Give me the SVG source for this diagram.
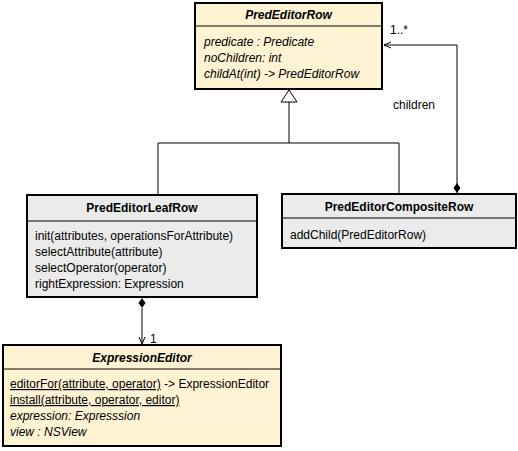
<svg xmlns="http://www.w3.org/2000/svg" width="518" height="451" viewBox="0 0 518 451">
<style>
text{font-family:"Liberation Sans",Arial,sans-serif;font-size:12px;fill:#000}
.t{font-weight:bold;text-anchor:middle}
.i{font-style:italic}
.box{stroke:#000;stroke-width:2}
.cream{fill:#fff3d4}
.gray{fill:#ebebeb}
.sep{stroke:#000;stroke-width:1}
.ln{fill:none;stroke:#000;stroke-width:1}
</style>
<defs>
<marker id="open" markerWidth="8" markerHeight="8" refX="7" refY="4" orient="auto" markerUnits="userSpaceOnUse">
<path d="M0,1 L7,4 L0,7" fill="none" stroke="#000" stroke-width="1"/>
</marker>
</defs>
<g id="connectors">
<path class="ln" d="M289,102 V143 M158,143 H399 M158,143 V195 M399,143 V194"/>
<path d="M289,90 L281,102 L297,102 Z" fill="#fff" stroke="#000" stroke-width="1"/>
<path class="ln" d="M457,193 V45 H384" marker-end="url(#open)"/>
<path d="M457,183 L460.5,188 L457,193 L453.5,188 Z" fill="#000"/>
<text x="390" y="34">1..*</text>
<text x="393" y="109">children</text>
<path class="ln" d="M142,308 V344" marker-end="url(#open)"/>
<path d="M142,298 L145.5,303 L142,308 L138.5,303 Z" fill="#000"/>
<text x="150" y="343">1</text>
</g>
<g id="PredEditorRow">
<rect class="box cream" x="195" y="3" width="187" height="86"/>
<line class="sep" x1="195" y1="26" x2="382" y2="26"/>
<text class="t i" x="288.5" y="19">PredEditorRow</text>
<text class="i" x="204" y="46">predicate : Predicate</text>
<text class="i" x="204" y="62">noChildren: int</text>
<text class="i" x="204" y="78">childAt(int) -&gt; PredEditorRow</text>
</g>
<g id="PredEditorLeafRow">
<rect class="box gray" x="27" y="195" width="230" height="102"/>
<line class="sep" x1="27" y1="221" x2="257" y2="221"/>
<text class="t" x="142" y="212">PredEditorLeafRow</text>
<text x="35" y="240">init(attributes, operationsForAttribute)</text>
<text x="35" y="256">selectAttribute(attribute)</text>
<text x="35" y="272">selectOperator(operator)</text>
<text x="35" y="288">rightExpression: Expression</text>
</g>
<g id="PredEditorCompositeRow">
<rect class="box gray" x="282" y="194" width="234" height="54"/>
<line class="sep" x1="282" y1="218" x2="516" y2="218"/>
<text class="t" x="399" y="211">PredEditorCompositeRow</text>
<text x="290" y="239">addChild(PredEditorRow)</text>
</g>
<g id="ExpressionEditor">
<rect class="box cream" x="3" y="345" width="278" height="101"/>
<line class="sep" x1="3" y1="369" x2="281" y2="369"/>
<text class="t i" x="142" y="362">ExpressionEditor</text>
<text x="10" y="388"><tspan text-decoration="underline">editorFor(attribute, operator)</tspan> -&gt; ExpressionEditor</text>
<text x="10" y="404" text-decoration="underline">install(attribute, operator, editor)</text>
<text class="i" x="10" y="420">expression: Expresssion</text>
<text class="i" x="10" y="436">view : NSView</text>
</g>
</svg>
